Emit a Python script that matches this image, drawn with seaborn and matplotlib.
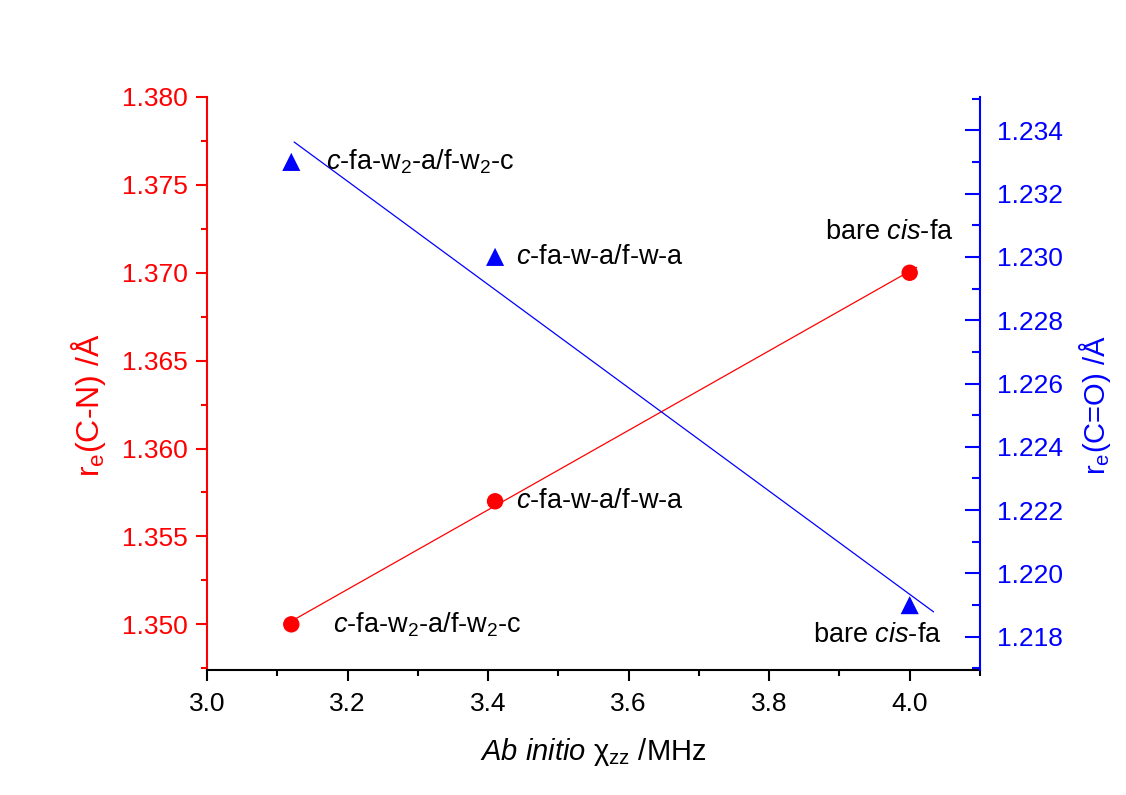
import numpy as np
import pandas as pd
import matplotlib
matplotlib.use("Agg")
import matplotlib.pyplot as plt
import seaborn as sns
from matplotlib.ticker import MultipleLocator, FormatStrFormatter

# Data
chi_zz = [3.12, 3.41, 4.00]
r_cn = [1.350, 1.357, 1.370]
r_co = [1.233, 1.230, 1.219]
labels = [r"$\it{c}$-fa-w$_2$-a/f-w$_2$-c", r"$\it{c}$-fa-w-a/f-w-a", r"bare $\it{cis}$-fa"]

sns.set_style("ticks")
plt.rcParams["font.family"] = ["Liberation Sans", "DejaVu Sans"]
plt.rcParams["mathtext.fontset"] = "custom"
plt.rcParams["mathtext.rm"] = "Liberation Sans"
plt.rcParams["mathtext.it"] = "Liberation Sans:italic"
plt.rcParams["mathtext.bf"] = "Liberation Sans:bold"
plt.rcParams["text.color"] = "black"
plt.rcParams["axes.labelcolor"] = "black"

df = pd.DataFrame({"chi": chi_zz, "cn": r_cn, "co": r_co})

fig = plt.figure(figsize=(11.26, 7.95), dpi=100)
ax = fig.add_axes([0.1838, 0.1572, 0.6865, 0.7208])
ax2 = ax.twinx()

# linear fits
k1, b1 = np.polyfit(chi_zz, r_cn, 1)
k2, b2 = np.polyfit(chi_zz, r_co, 1)
xf1 = np.array([3.127, 4.01])
xf2 = np.array([3.124, 4.034])
sns.lineplot(x=xf1, y=k1 * xf1 + b1, ax=ax, color="red", lw=0.9)
sns.lineplot(x=xf2, y=k2 * xf2 + b2, ax=ax2, color="blue", lw=0.9)

sns.scatterplot(data=df, x="chi", y="cn", ax=ax, color="red", marker="o", s=140,
                edgecolor="none", zorder=3)
sns.scatterplot(data=df, x="chi", y="co", ax=ax2, color="blue", marker="^", s=170,
                edgecolor="none", zorder=3)

fs = 19.5
# annotations for C-N points
ax.text(chi_zz[0] + 0.06, r_cn[0], labels[0], fontsize=fs, va="center", ha="left")
ax.text(chi_zz[1] + 0.03, r_cn[1], labels[1], fontsize=fs, va="center", ha="left")
ax.text(chi_zz[2] + 0.063, r_cn[2] + 0.00233, labels[2], fontsize=fs, va="center", ha="right")
# annotations for C=O points
ax2.text(chi_zz[0] + 0.05, r_co[0], labels[0], fontsize=fs, va="center", ha="left")
ax2.text(chi_zz[1] + 0.03, r_co[1], labels[1], fontsize=fs, va="center", ha="left")
ax2.text(chi_zz[2] + 0.046, r_co[2] - 0.00095, labels[2], fontsize=fs, va="center", ha="right")

ax.set_xlim(3.0, 4.1)
ax.set_ylim(1.3474, 1.380)
ax2.set_ylim(1.21695, 1.23505)

ax.xaxis.set_major_locator(MultipleLocator(0.2))
ax.xaxis.set_minor_locator(MultipleLocator(0.1))
ax.yaxis.set_major_locator(MultipleLocator(0.005))
ax.yaxis.set_minor_locator(MultipleLocator(0.0025))
ax2.yaxis.set_major_locator(MultipleLocator(0.002))
ax2.yaxis.set_minor_locator(MultipleLocator(0.001))
ax.xaxis.set_major_formatter(FormatStrFormatter("%.1f"))
ax.yaxis.set_major_formatter(FormatStrFormatter("%.3f"))
ax2.yaxis.set_major_formatter(FormatStrFormatter("%.3f"))

for a in (ax, ax2):
    a.spines["top"].set_visible(False)
ax.spines["right"].set_visible(False)
ax2.spines["left"].set_visible(False)
ax2.spines["bottom"].set_visible(False)
ax.spines["left"].set_color("red")
ax.spines["left"].set_linewidth(1.5)
ax.spines["bottom"].set_color("black")
ax.spines["bottom"].set_linewidth(1.5)
ax2.spines["right"].set_color("blue")
ax2.spines["right"].set_linewidth(1.5)

ax.tick_params(axis="x", which="both", direction="out", colors="black", width=1.5, labelsize=19, pad=8)
ax.tick_params(axis="x", which="major", length=8)
ax.tick_params(axis="x", which="minor", length=4)
ax.tick_params(axis="y", which="both", direction="out", colors="red", width=1.5, labelsize=19, pad=6)
ax.tick_params(axis="y", which="major", length=8)
ax.tick_params(axis="y", which="minor", length=4)
ax2.tick_params(axis="y", which="both", direction="in", colors="blue", width=1.5, labelsize=19, pad=12)
ax2.tick_params(axis="y", which="major", length=11)
ax2.tick_params(axis="y", which="minor", length=6)

ax.set_xlabel(r"$\it{Ab\ initio}$ χ$_{\rm zz}$ /MHz", fontsize=21, labelpad=14)
ax.set_ylabel(r"r$_{\rm e}$(C-N) /Å", fontsize=23, color="red", labelpad=10)
ax2.set_ylabel(r"r$_{\rm e}$(C=O) /Å", fontsize=21, color="blue", labelpad=10)
ax.yaxis.label.set_y(0.462)
ax2.yaxis.label.set_y(0.462)

fig.savefig("out.png", dpi=100, facecolor="white")
